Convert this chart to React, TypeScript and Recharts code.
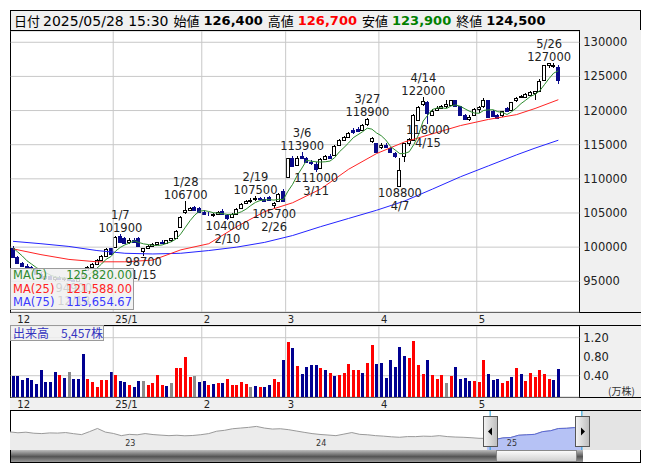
import React from "react";
import {
  Area,
  Bar,
  CartesianGrid,
  ComposedChart,
  LabelList,
  Line,
  ReferenceArea,
  ReferenceLine,
  XAxis,
  YAxis,
} from "recharts";

const FONT = "'DejaVu Sans', sans-serif";
const JP = "'Noto Sans CJK JP', sans-serif";

// trading sessions shown in the window (11/29/2024 .. 5/28/2025)
const DATES = [
  "11/29",
  "12/2", "12/3", "12/4", "12/5", "12/6", "12/9", "12/10", "12/11", "12/12", "12/13",
  "12/16", "12/17", "12/18", "12/19", "12/20", "12/23", "12/24", "12/25", "12/26", "12/27", "12/30",
  "1/6", "1/7", "1/8", "1/9", "1/10", "1/14", "1/15", "1/16", "1/17", "1/20",
  "1/21", "1/22", "1/23", "1/24", "1/27", "1/28", "1/29", "1/30", "1/31",
  "2/3", "2/4", "2/5", "2/6", "2/7", "2/10", "2/12", "2/13", "2/14", "2/17",
  "2/18", "2/19", "2/20", "2/21", "2/25", "2/26", "2/27", "2/28",
  "3/3", "3/4", "3/5", "3/6", "3/7", "3/10", "3/11", "3/12", "3/13", "3/14",
  "3/17", "3/18", "3/19", "3/21", "3/24", "3/25", "3/26", "3/27", "3/28", "3/31",
  "4/1", "4/2", "4/3", "4/4", "4/7", "4/8", "4/9", "4/10", "4/11", "4/14",
  "4/15", "4/16", "4/17", "4/18", "4/21", "4/22", "4/23", "4/24", "4/25", "4/28", "4/30",
  "5/1", "5/2", "5/7", "5/8", "5/9", "5/12", "5/13", "5/14", "5/15", "5/16",
  "5/19", "5/20", "5/21", "5/22", "5/23", "5/26", "5/27", "5/28",
];
// empty slots the chart keeps on the right of the last session
const SPARE = ["+1", "+2", "+3", "+4"];

const OPEN = [
  99850, 98600, 97650, 97300, 97100, 96900, 96100, 95500, 95700, 95400,
  95600, 95300, 95500, 95200, 95100, 95700, 96600, 97150, 97500, 98100,
  98700, 99850, 100000, 101600, 101300, 100700, 101000, 101400, 99400, 99900,
  100100, 100400, 100700, 100600, 101000, 101300, 102900, 105100, 105500, 105900,
  105800, 105200, 104900, 104700, 104900, 105300, 104700, 104400, 104900, 105800,
  106400, 106700, 107000, 107200, 107000, 107300, 106200, 106700, 108200, 110300,
  113000, 112100, 113300, 113100, 112500, 112200, 111600, 112900, 113400, 113500,
  115000, 115700, 116100, 117200, 117300, 117200, 118100, 115500, 115200, 114700,
  115000, 114500, 113800, 108900, 113300, 115200, 115700, 118600, 121000, 121300,
  119400, 120100, 120400, 120600, 120800, 121500, 120600, 119400, 118800, 119300,
  120300, 120600, 121500, 119900, 119300, 119300, 120400, 120100, 121500, 122000,
  122000, 122300, 122600, 122800, 124500, 126700, 126500, 126400,
];
const HIGH = [
  100100, 98700, 97800, 97500, 97300, 97000, 96300, 95900, 95900, 95800,
  95700, 95600, 95600, 95400, 95700, 96300, 97300, 97700, 98300, 98900,
  99900, 99900, 101600, 101900, 101500, 101300, 101300, 101500, 99900, 100300,
  100600, 100800, 101000, 101100, 101400, 102500, 104600, 106700, 105900, 106000,
  105900, 105400, 105200, 105000, 105300, 105600, 104900, 105000, 105700, 106500,
  106900, 107200, 107500, 107400, 107300, 107500, 106600, 107900, 108500, 113100,
  113300, 113300, 113900, 113200, 112700, 112400, 113000, 113500, 113700, 114900,
  115900, 116300, 116900, 117500, 117600, 118100, 118900, 116200, 115300, 115200,
  115200, 114600, 113900, 113000, 115300, 116000, 119500, 120700, 122000, 121400,
  120200, 120600, 120800, 121500, 121600, 121600, 120700, 119500, 119300, 120400,
  120600, 121800, 121600, 120100, 119500, 120000, 120500, 121300, 122000, 122300,
  122600, 122800, 122900, 124600, 126700, 127000, 126900, 126700,
];
const LOW = [
  98500, 97500, 97200, 96900, 96700, 96000, 95300, 95200, 95300, 95100,
  95200, 95000, 95100, 94900, 95000, 95500, 96500, 97000, 97400, 98000,
  98600, 99000, 99900, 100700, 100400, 100500, 100600, 100100, 98700, 99700,
  100000, 100300, 100400, 100500, 100800, 101200, 102800, 104900, 105300, 105300,
  105100, 104800, 104500, 104400, 104700, 104700, 104000, 104200, 104800, 105700,
  106300, 106500, 106800, 106800, 106600, 106700, 105700, 106600, 106600, 110200,
  111700, 112000, 113000, 112300, 112000, 111000, 111400, 112700, 112900, 113400,
  114800, 115500, 116000, 116600, 116800, 117000, 117800, 115300, 113900, 114400,
  114500, 113900, 113100, 108800, 112500, 114800, 115600, 118400, 120600, 118000,
  119200, 119900, 120200, 120400, 120700, 120600, 119300, 118600, 118500, 119200,
  119700, 120400, 119000, 119100, 118700, 119100, 119800, 120000, 121300, 121800,
  121800, 122100, 121500, 122700, 124400, 126300, 126200, 123900,
];
const CLOSE = [
  98600, 97650, 97300, 97100, 96900, 96100, 95500, 95700, 95400, 95600,
  95300, 95500, 95200, 95100, 95600, 96200, 97150, 97500, 98100, 98700,
  99700, 99050, 101500, 100800, 100600, 101000, 100800, 100200, 99800, 100100,
  100400, 100700, 100600, 101000, 101300, 102400, 104400, 105500, 105800, 105400,
  105200, 104900, 104800, 104900, 105100, 104800, 104300, 104900, 105600, 106300,
  106700, 106900, 107200, 107000, 106800, 106900, 106500, 107800, 106800, 113000,
  111900, 113100, 113100, 112500, 112300, 111500, 112900, 113300, 113000, 114800,
  115700, 116100, 116700, 116800, 117000, 117900, 118700, 116000, 114000, 115000,
  114700, 114000, 113400, 111300, 115200, 115900, 119300, 120500, 121400, 119600,
  120000, 120400, 120600, 120900, 121500, 120700, 119400, 118700, 119100, 120300,
  120500, 121500, 119100, 119200, 118900, 119900, 120000, 121200, 121900, 122100,
  122400, 122700, 122800, 124400, 126600, 126900, 126700, 124500,
];

// volume, 10,000-share units; u = up day, d = down day, n = unchanged
const VOLUME = [
  0.40, 0.40, 0.32, 0.36, 0.32, 0.23, 0.51, 0.27, 0.27, 0.48,
  0.42, 0.36, 0.48, 0.34, 0.34, 0.86, 0.34, 0.27, 0.17, 0.32,
  0.32, 0.48, 0.42, 0.29, 0.27, 0.21, 0.17, 0.29, 0.29, 0.21,
  0.25, 0.42, 0.21, 0.19, 0.25, 0.57, 0.57, 0.80, 0.38, 0.40,
  0.27, 0.29, 0.21, 0.23, 0.25, 0.25, 0.34, 0.21, 0.21, 0.27,
  0.23, 0.17, 0.19, 0.17, 0.17, 0.21, 0.34, 0.27, 0.74, 1.10,
  0.99, 0.61, 0.44, 0.59, 0.63, 0.63, 0.57, 0.51, 0.46, 0.40,
  0.42, 0.46, 0.65, 0.51, 0.53, 0.46, 0.67, 1.05, 0.65, 0.67,
  0.36, 0.74, 0.59, 1.01, 0.82, 0.78, 1.14, 0.63, 0.44, 0.74,
  0.42, 0.34, 0.42, 0.25, 0.40, 0.59, 0.34, 0.36, 0.29, 0.29,
  0.27, 0.74, 0.44, 0.32, 0.34, 0.25, 0.29, 0.38, 0.57, 0.44,
  0.29, 0.46, 0.38, 0.51, 0.44, 0.34, 0.32, 0.5457,
];
const VOL_DIR =
  "dddddddddd" + "udnddduuuu" + "ududduddnu" + "uuudnuuuun" +
  "ddududuuuu" + "undudduudu" + "duddddudud" + "uuuuuduudd" +
  "ddddduuuud" + "uuunuddddu" + "uuddduudud" + "uuuuuudd";

// moving averages as drawn on the chart
const MA5 = [
  99900, 99300, 98700, 98000, 97510, 97010, 96580, 96260, 95920, 95660,
  95500, 95500, 95400, 95340, 95340, 95520, 95850, 96310, 96910, 97530,
  98230, 98610, 99410, 99950, 100330, 100590, 100940, 100680, 100480, 100380,
  100260, 100240, 100320, 100560, 100800, 101200, 101940, 102920, 103880, 104700,
  105260, 105360, 105220, 105040, 104980, 104900, 104780, 104800, 104940, 105180,
  105560, 106080, 106540, 106820, 106920, 106960, 106880, 107000, 106960, 108200,
  109200, 110520, 111580, 112720, 112580, 112500, 112460, 112500, 112600, 113100,
  113940, 114580, 115260, 116020, 116460, 116900, 117420, 117280, 116720, 116320,
  115680, 114740, 114220, 113680, 113720, 113960, 115020, 116440, 118460, 119340,
  120160, 120380, 120400, 120300, 120680, 120820, 120620, 120240, 119880, 119640,
  119600, 120020, 120100, 120120, 119840, 119720, 119420, 119840, 120380, 121020,
  121520, 122060, 122380, 122880, 123780, 124680, 125480, 125820,
];
const MA25_PTS: [string, number][] = [
  ["11/29", 99750], ["12/9", 98900], ["12/17", 98200], ["12/25", 97850], ["1/8", 97850],
  ["1/17", 98100], ["1/27", 99600], ["2/4", 100500], ["2/13", 103000], ["2/21", 105200],
  ["3/4", 106500], ["3/12", 108500], ["3/21", 111400], ["3/31", 113700], ["4/8", 115400],
  ["4/16", 116600], ["4/24", 117800], ["5/7", 118700], ["5/15", 119400], ["5/21", 120300],
  ["5/28", 121588],
];
const MA75_PTS: [string, number][] = [
  ["11/29", 100850], ["12/9", 100500], ["12/17", 100100], ["12/25", 99500], ["1/8", 99100],
  ["1/17", 99000], ["1/27", 99100], ["2/4", 99500], ["2/13", 100000], ["2/21", 100700],
  ["3/4", 101700], ["3/12", 103000], ["3/21", 104200], ["3/31", 105400], ["4/8", 106750],
  ["4/16", 108500], ["4/24", 110300], ["5/7", 111900], ["5/15", 113500], ["5/21", 114500],
  ["5/28", 115655],
];

const NOTES = [
  { date: "12/18", side: "low", price: 94900 },
  { date: "1/7", side: "high", price: 101900 },
  { date: "1/15", side: "low", price: 98700 },
  { date: "1/28", side: "high", price: 106700 },
  { date: "2/10", side: "low", price: 104000 },
  { date: "2/19", side: "high", price: 107500 },
  { date: "2/26", side: "low", price: 105700 },
  { date: "3/6", side: "high", price: 113900 },
  { date: "3/11", side: "low", price: 111000 },
  { date: "3/27", side: "high", price: 118900 },
  { date: "4/7", side: "low", price: 108800 },
  { date: "4/14", side: "high", price: 122000 },
  { date: "4/15", side: "low", price: 118000 },
  { date: "5/26", side: "high", price: 127000 },
];

const MONTH_TICKS = ["12/2", "1/6", "2/3", "3/3", "4/1", "5/1"];
const MONTH_LABELS = ["12", "25/1", "2", "3", "4", "5"];
const PRICE_TICKS = [95000, 100000, 105000, 110000, 115000, 120000, 125000, 130000];
const VOL_TICKS = [0.4, 0.8, 1.2];

// navigator: half-month points from Jun 2022 (months since 2022/06)
const NAV_PRICE = [
  112400, 110500, 111800, 109500, 108700, 110200, 109800, 111000, 108500, 106400,
  113000, 120100, 112000, 109000, 104100, 107000, 106000, 108700, 106500, 105200,
  104100, 105000, 103800, 104500, 106200, 108700, 114000, 116000, 119500, 121000,
  122500, 124700, 121000, 118800, 119500, 117500, 114500, 111500, 108700, 106800,
  105500, 104100, 107500, 111000, 107000, 106000, 104100, 103000, 101500, 100500,
  102000, 101900, 103000, 102500, 104100, 102000, 101000, 100500, 99500, 98200,
  98000, 95500, 99000, 100000, 105000, 106000, 107000, 113000, 115000, 120000,
  120500, 122000, 124500,
];
const NAV_YEARS = ["23", "24", "25"];
const NAV_YEAR_AT = [7, 19, 31];
const NAV_SEL = [30.2, 35.97];
const NAV_MAX = 39.69;

const rows: any[] = [...DATES, ...SPARE].map((d, i) => ({
  d,
  o: OPEN[i],
  h: HIGH[i],
  l: LOW[i],
  c: CLOSE[i],
  v: VOLUME[i],
  vd: VOL_DIR[i],
  ma5: MA5[i],
  ma25: null,
  ma75: null,
}));
MA25_PTS.forEach(([d, v]) => (rows[DATES.indexOf(d)].ma25 = v));
MA75_PTS.forEach(([d, v]) => (rows[DATES.indexOf(d)].ma75 = v));

const navRows = NAV_PRICE.map((p, i) => ({
  m: i / 2,
  p,
  sel: i / 2 >= 30 ? p : null,
}));

const VOL_FLOOR = -0.048;
const UP = "#000";
const DOWN = "#0a0a8a";

function Candle(props: any) {
  const { x, y, width, height, payload } = props;
  if (payload.o == null || !isFinite(y)) return <g />;
  const { o, h, l, c } = payload;
  const span = h - l || 1;
  const py = (v: number) => y + ((h - v) / span) * height;
  const up = c >= o;
  const cx = Math.floor(x + width / 2);
  const top = Math.round(py(Math.max(o, c)));
  const bot = Math.round(py(Math.min(o, c)));
  const col = up ? UP : DOWN;
  return (
    <g shapeRendering="crispEdges">
      <line x1={cx + 0.5} x2={cx + 0.5} y1={Math.round(y)} y2={Math.round(y + height)} stroke={col} />
      <rect x={cx - 1.5} y={top + 0.5} width={3} height={Math.max(bot - top, 0)} fill={up ? "#fff" : DOWN} stroke={col} />
    </g>
  );
}

function VolBar(props: any) {
  const { x, y, width, height, payload } = props;
  if (payload.v == null || !isFinite(y)) return <g />;
  const fill = payload.vd === "u" ? "#ff0000" : payload.vd === "n" ? "#8c8c8c" : "#000090";
  const cx = Math.floor(x + width / 2);
  return <rect x={cx - 1} y={y} width={3} height={height} fill={fill} shapeRendering="crispEdges" />;
}

function Note(props: any) {
  const vb = props.viewBox ?? props;
  const { x, y, width, height } = vb;
  const n = NOTES.find((k) => k.date === props.value);
  if (!n) return null;
  const cx = x + width / 2;
  const first = n.side === "high" ? y - 15 : y + height + 10;
  const lines = n.side === "high" ? [n.date, String(n.price)] : [String(n.price), n.date];
  return (
    <g>
      {lines.map((t, k) => (
        <text key={k} x={cx} y={first + k * 13} textAnchor="middle" fontSize={11.5} fill="#222" fontFamily={FONT}>
          {t}
        </text>
      ))}
    </g>
  );
}

function MonthTick(props: any) {
  const { x, y, payload } = props;
  const k = MONTH_TICKS.indexOf(payload.value);
  if (k < 0) return <g />;
  const half = payload.offset ?? 2.33;
  return (
    <text x={x - half + 2} y={y + 10.5} fontSize={10} fill="#222" fontFamily={FONT}>
      {MONTH_LABELS[k]}
    </text>
  );
}

// the right axis (61.7 px) takes the place of a right margin
const MARGIN = { top: 0, right: 0, bottom: 0, left: 0.67 };

function monthLines() {
  return MONTH_TICKS.slice(1).map((d) => (
    <ReferenceLine key={d} x={d} position="start" stroke="#c8c8c8" />
  ));
}

const box: React.CSSProperties = { position: "absolute", boxSizing: "border-box" };

function Handle({ left, dir }: { left: number; dir: "l" | "r" }) {
  return (
    <svg style={{ ...box, left, top: 416 }} width={15} height={31}>
      <defs>
        <linearGradient id={"hg" + dir} x1="0" x2="1" y1="0" y2="0">
          <stop offset="0" stopColor="#f4f4f4" />
          <stop offset="1" stopColor="#bdbdbd" />
        </linearGradient>
      </defs>
      <rect x={0.5} y={0.5} width={14} height={30} fill={`url(#hg${dir})`} stroke="#555" />
      {dir === "l" ? <path d="M5 15.5 L9 11.5 L9 19.5 Z" fill="#000" /> : <path d="M10 15.5 L6 11.5 L6 19.5 Z" fill="#000" />}
    </svg>
  );
}

export default function App() {
  const ma = (label: string, value: string, color: string) => (
    <div style={{ display: "flex", justifyContent: "space-between", color, height: 13.5 }}>
      <span>{label}</span>
      <span>{value}</span>
    </div>
  );
  return (
    <div style={{ position: "absolute", left: 0, top: 0, width: 653, height: 470, fontFamily: FONT }}>
      <div style={{ ...box, left: 10, top: 10, width: 631, height: 453, border: "1px solid #000", background: "#fff" }} />

      {/* title bar */}
      <div
        style={{
          ...box, left: 10, top: 10, width: 631, height: 21, border: "1px solid #000",
          background: "#f0f0f0", display: "flex", alignItems: "center", paddingLeft: 3, color: "#000",
          whiteSpace: "nowrap",
        }}
      >
        <span style={{ fontFamily: JP, fontSize: 13 }}>日付</span>
        <span style={{ fontSize: 14, marginLeft: 3 }}>2025/05/28 15:30</span>
        {[
          ["始値", "126,400", "#000"],
          ["高値", "126,700", "#ff0000"],
          ["安値", "123,900", "#008000"],
          ["終値", "124,500", "#000"],
        ].map(([k, v, col]) => (
          <React.Fragment key={k}>
            <span style={{ fontFamily: JP, fontSize: 13, marginLeft: 5 }}>{k}</span>
            <span style={{ fontWeight: "bold", fontSize: 13, marginLeft: 4, color: col }}>{v}</span>
          </React.Fragment>
        ))}
      </div>

      {/* axis panels and date strips */}
      <div style={{ ...box, left: 579, top: 30, width: 62, height: 283, borderLeft: "1px solid #000", background: "#f0f0f0" }} />
      <div style={{ ...box, left: 579, top: 325, width: 62, height: 73, borderLeft: "1px solid #000", background: "#f0f0f0" }} />
      <div style={{ ...box, left: 10, top: 312, width: 631, height: 14, borderTop: "1px solid #000", borderBottom: "1px solid #000", background: "#f0f0f0" }} />
      <div style={{ ...box, left: 10, top: 397, width: 631, height: 14, borderTop: "1px solid #000", borderBottom: "1px solid #000", background: "#f0f0f0" }} />

      {/* price panel */}
      <div style={{ position: "absolute", left: 10, top: 31 }}>
        <ComposedChart width={631} height={294} data={rows} margin={MARGIN}>
          <CartesianGrid vertical={false} stroke="#c8c8c8" />
          {monthLines()}
          <XAxis dataKey="d" ticks={MONTH_TICKS} interval={0} height={13} axisLine={false} tickLine={false} tickSize={0} tickMargin={0} tick={<MonthTick />} />
          <YAxis
            orientation="right" domain={[90500, 131650]} ticks={PRICE_TICKS} allowDataOverflow width={61.7}
            axisLine={false} tickLine={false} tickSize={0} tickMargin={4}
            tick={{ fontSize: 11.5, fill: "#222", fontFamily: FONT }}
          />
          <Bar dataKey={(r: any) => (r.h == null ? null : [r.l, r.h])} shape={Candle} isAnimationActive={false}>
            <LabelList dataKey="d" content={Note} />
          </Bar>
          <Line dataKey="ma75" stroke="#2424ff" dot={false} connectNulls isAnimationActive={false} />
          <Line dataKey="ma25" stroke="#ff2424" dot={false} connectNulls isAnimationActive={false} />
          <Line dataKey="ma5" stroke="#2e8b2e" dot={false} connectNulls isAnimationActive={false} />
        </ComposedChart>
      </div>

      {/* MA legend */}
      <div
        style={{
          ...box, left: 10, top: 268, width: 124, height: 42, border: "1px solid #9a9a9a",
          background: "rgba(240,240,240,0.85)", fontSize: 11.5, padding: "0 1px 0 2px", lineHeight: "13.5px",
        }}
      >
        {ma("MA(5)", "125,820.00", "#2e8b2e")}
        {ma("MA(25)", "121,588.00", "#ff2424")}
        {ma("MA(75)", "115,654.67", "#3a3aff")}
      </div>

      {/* volume panel */}
      <div style={{ position: "absolute", left: 10, top: 326 }}>
        <ComposedChart width={631} height={84} data={rows} margin={MARGIN}>
          <CartesianGrid vertical={false} stroke="#c8c8c8" />
          {monthLines()}
          <XAxis dataKey="d" ticks={MONTH_TICKS} interval={0} height={13} axisLine={false} tickLine={false} tickSize={0} tickMargin={0} tick={<MonthTick />} />
          <YAxis
            orientation="right" domain={[VOL_FLOOR, 1.446]} ticks={VOL_TICKS} allowDataOverflow width={61.7}
            axisLine={false} tickLine={false} tickSize={0} tickMargin={4}
            tickFormatter={(v: number) => v.toFixed(2)}
            tick={{ fontSize: 11.5, fill: "#222", fontFamily: FONT }}
          />
          <Bar dataKey={(r: any) => (r.v == null ? null : [VOL_FLOOR, r.v])} shape={VolBar} isAnimationActive={false} />
        </ComposedChart>
      </div>
      <div style={{ ...box, left: 10, top: 325, width: 94, height: 16, border: "1px solid #9a9a9a", background: "rgba(240,240,240,0.85)", color: "#3434c0", fontFamily: JP, fontSize: 12, lineHeight: "14px", paddingLeft: 2, whiteSpace: "nowrap" }}>
        出来高　5,457株
      </div>
      <div style={{ position: "absolute", left: 608, top: 383, fontFamily: JP, fontSize: 10, color: "#333" }}>(万株)</div>

      {/* navigator */}
      <div style={{ position: "absolute", left: 10, top: 411 }}>
        <ComposedChart width={631} height={39} data={navRows} margin={{ top: 0, right: 0, bottom: 0, left: 0 }}>
          <XAxis type="number" dataKey="m" domain={[0, NAV_MAX]} hide allowDataOverflow />
          <YAxis domain={[72140, 159000]} hide allowDataOverflow />
          <ReferenceArea x1={NAV_SEL[1]} x2={NAV_MAX} fill="#e4e4e4" fillOpacity={1} stroke="none" />
          <Area dataKey="p" stroke="#9a9a9a" fill="#ececec" fillOpacity={1} isAnimationActive={false} />
          <Area dataKey="sel" stroke="#5a68d6" fill="#b6c2f5" fillOpacity={1} isAnimationActive={false} />
          {NAV_YEAR_AT.map((m, k) => (
            <ReferenceLine key={m} x={m} stroke="none" label={{ value: NAV_YEARS[k], position: "insideBottomLeft", fontSize: 8, fill: "#333", offset: 4 }} />
          ))}
          {NAV_SEL.map((m) => (
            <ReferenceLine key={m} x={m} stroke="#1e9fd8" />
          ))}
        </ComposedChart>
      </div>
      <div style={{ ...box, left: 11, top: 450, width: 485, height: 12, background: "linear-gradient(#bdbdbd, #555 55%, #9a9a9a)" }} />
      <div style={{ ...box, left: 496, top: 450, width: 81, height: 12, border: "1px solid #888", background: "linear-gradient(#fafafa, #d0d0d0)" }} />
      <div style={{ ...box, left: 577, top: 450, width: 6, height: 12, background: "linear-gradient(#bdbdbd, #555 55%, #9a9a9a)" }} />
      <Handle left={483} dir="l" />
      <Handle left={575} dir="r" />
    </div>
  );
}
